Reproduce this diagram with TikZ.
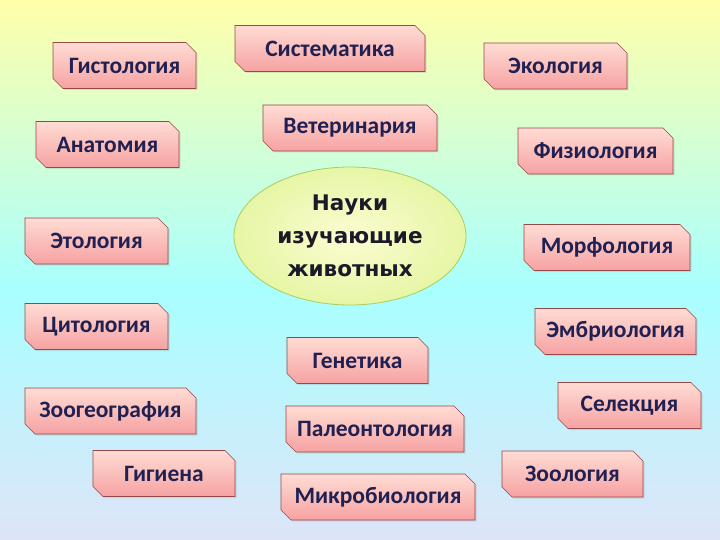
\documentclass[tikz,border=0pt]{standalone}
\usepackage{fontspec}
\setmainfont{Carlito}
\newfontfamily\ovalfont{DejaVu Sans}
\usetikzlibrary{shapes.misc,shapes.geometric,shadows}

\definecolor{bgtop}{RGB}{255,255,170}
\definecolor{bgmid}{RGB}{168,255,255}
\definecolor{bgbot}{RGB}{222,228,248}
\definecolor{boxtop}{RGB}{255,220,212}
\definecolor{boxbot}{RGB}{246,162,162}
\definecolor{boxline}{RGB}{150,72,72}
\definecolor{labeltext}{RGB}{32,32,82}
\definecolor{ovalin}{RGB}{252,252,210}
\definecolor{ovalout}{RGB}{230,246,165}
\definecolor{ovalline}{RGB}{172,204,96}

\tikzset{
  every science/.style={chamfered rectangle,
    chamfered rectangle corners={north east,south west},
    chamfered rectangle xsep=5pt, chamfered rectangle ysep=5pt,
    draw=boxline, line width=0.6pt, top color=boxtop, bottom color=boxbot,
    minimum height=46pt, inner sep=0pt, text=labeltext,
    font=\bfseries\fontsize{23.5}{26}\selectfont,
    drop shadow={opacity=0.2, shadow xshift=1.5pt, shadow yshift=-1.5pt}},
  every topic/.style={ellipse, draw=ovalline, line width=0.8pt,
    inner color=ovalin, outer color=ovalout,
    minimum width=232pt, minimum height=138pt, inner sep=0pt,
    align=center, text={rgb,255:red,26;green,26;blue,40},
    font=\ovalfont\bfseries\fontsize{21.5}{33}\selectfont}
}

\begin{document}
\begin{tikzpicture}[x=1pt, y=-1pt]

    % background
    \shade [top color=bgtop, bottom color=bgmid] (0,0) rectangle (720,290);
    \shade [top color=bgmid, bottom color=bgbot] (0,290) rectangle (720,540);
    \useasboundingbox (0,0) rectangle (720,540);

    % centre
    \node [every topic/.try] (topic) at (350,236) {Науки\\изучающие\\животных};

    % left column
    \foreach \n/\x/\y/\w/\t in {gist/124.5/65.5/143pt/Гистология,
        anat/107.5/144.5/143pt/Анатомия,
        etol/96.5/241/143pt/Этология,
        cito/96.5/326.5/143pt/Цитология,
        zoog/110.5/411/171pt/Зоогеография,
        gig/164/473.5/142pt/Гигиена}
    \node [every science/.try, minimum width=\w] (\n) at (\x,\y) {\t};

    % middle column
    \foreach \n/\x/\y/\w/\t in {sist/330/48.5/190pt/Систематика,
        vet/350/128/174pt/Ветеринария,
        gen/357.5/360.5/141pt/Генетика,
        paleo/375/429/178pt/Палеонтология,
        micro/378/497/194pt/Микробиология}
    \node [every science/.try, minimum width=\w] (\n) at (\x,\y) {\t};

    % right column
    \foreach \n/\x/\y/\w/\t in {ekol/555.5/66/143pt/Экология,
        fiz/595.5/151/155pt/Физиология,
        morf/607/247.5/166pt/Морфология,
        embr/615.5/331.5/161pt/Эмбриология,
        sel/629.5/405.5/143pt/Селекция,
        zool/572.5/474/141pt/Зоология}
    \node [every science/.try, minimum width=\w] (\n) at (\x,\y) {\t};

\end{tikzpicture}
\end{document}
